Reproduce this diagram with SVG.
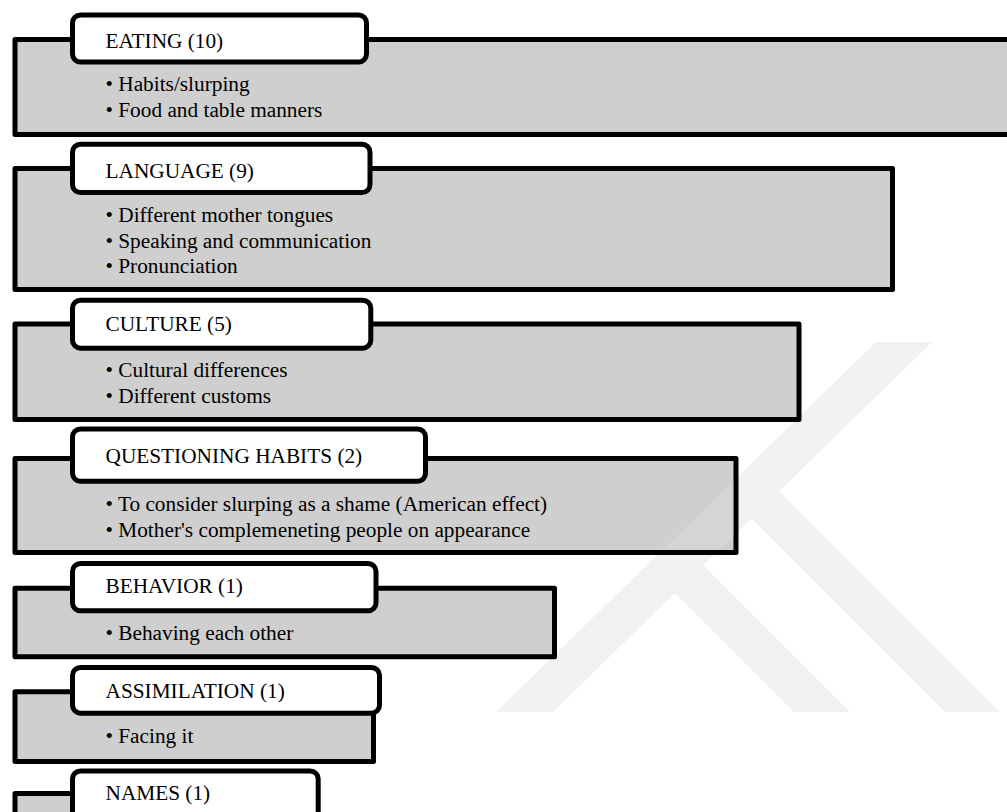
<svg xmlns="http://www.w3.org/2000/svg" xmlns:xlink="http://www.w3.org/1999/xlink" width="1007" height="812" viewBox="0 0 1007 812">
  <style>
    .panel { fill: #cfcfcf; stroke: #000; stroke-width: 5; stroke-linejoin: round; }
    .tab { fill: #fff; stroke: #000; stroke-width: 5; }
    .title, .item { font-family: "Liberation Serif", "Times New Roman", serif; font-size: 21.3px; fill: #000; }
    .wm-base { fill: #f1f1f1; }
    .wm-lite { fill: #ffffff; opacity: 0.14; }
  </style>
  <defs>
    <!-- faint background emblem: one rising band with two falling branches -->
    <g id="wm">
      <polygon points="496,712 553,712 932,342 876,342"/>
      <polygon points="675,593 703.3,565.3 850,712 794,712"/>
      <polygon points="751.4,518.4 779.2,491.2 1000,712 945,712"/>
    </g>
    <clipPath id="clip-culture"><rect x="17.5" y="326.5" width="779" height="90.5"/></clipPath>
    <clipPath id="clip-questioning"><rect x="17.5" y="461" width="716" height="89"/></clipPath>
    <clipPath id="clip-behavior"><rect x="17.5" y="590.8" width="534.5" height="63.4"/></clipPath>
  </defs>

  <rect width="1007" height="812" fill="#fff"/>

  <g id="watermark" class="wm-base">
    <use xlink:href="#wm"/>
  </g>

  <!-- this layout has no connectors -->
  <g id="connectors"/>

  <g id="node-eating">
    <rect class="panel" x="15" y="39.5" width="1010" height="95"/>
    <rect class="tab" x="72.5" y="15" width="294" height="47" rx="8"/>
    <text class="title" x="105.5" y="48.3">EATING (10)</text>
    <text class="item" x="105.5" y="90.7">• Habits/slurping</text>
    <text class="item" x="105.5" y="117">• Food and table manners</text>
  </g>

  <g id="node-language">
    <rect class="panel" x="15" y="168.5" width="877.5" height="121"/>
    <rect class="tab" x="72.5" y="144.2" width="297.5" height="48.3" rx="8"/>
    <text class="title" x="105.5" y="178">LANGUAGE (9)</text>
    <text class="item" x="105.5" y="222">• Different mother tongues</text>
    <text class="item" x="105.5" y="248">• Speaking and communication</text>
    <text class="item" x="105.5" y="273">• Pronunciation</text>
  </g>

  <g id="node-culture">
    <rect class="panel" x="15" y="324" width="784" height="95.5"/>
    <use xlink:href="#wm" class="wm-lite" clip-path="url(#clip-culture)"/>
    <rect class="tab" x="72.5" y="300.2" width="298.3" height="48" rx="8"/>
    <text class="title" x="105.5" y="331">CULTURE (5)</text>
    <text class="item" x="105.5" y="376.7">• Cultural differences</text>
    <text class="item" x="105.5" y="402.7">• Different customs</text>
  </g>

  <g id="node-questioning-habits">
    <rect class="panel" x="15" y="458.5" width="721" height="94"/>
    <use xlink:href="#wm" class="wm-lite" clip-path="url(#clip-questioning)"/>
    <rect class="tab" x="72.5" y="429" width="353" height="52.3" rx="8"/>
    <text class="title" x="105.5" y="462.7">QUESTIONING HABITS (2)</text>
    <text class="item" x="105.5" y="511">• To consider slurping as a shame (American effect)</text>
    <text class="item" x="105.5" y="536.7">• Mother's complemeneting people on appearance</text>
  </g>

  <g id="node-behavior">
    <rect class="panel" x="15" y="588.3" width="539.5" height="68.4"/>
    <use xlink:href="#wm" class="wm-lite" clip-path="url(#clip-behavior)"/>
    <rect class="tab" x="72.5" y="563.5" width="303.5" height="47.3" rx="8"/>
    <text class="title" x="105.5" y="593.3">BEHAVIOR (1)</text>
    <text class="item" x="105.5" y="640">• Behaving each other</text>
  </g>

  <g id="node-assimilation">
    <rect class="panel" x="15" y="691.7" width="358.5" height="69.8"/>
    <rect class="tab" x="72.5" y="667.5" width="307" height="45.7" rx="8"/>
    <text class="title" x="105.5" y="697.7">ASSIMILATION (1)</text>
    <text class="item" x="105.5" y="743.3">• Facing it</text>
  </g>

  <g id="node-names">
    <rect class="panel" x="15" y="793.5" width="285" height="60"/>
    <rect class="tab" x="72.5" y="771" width="245.7" height="60" rx="8"/>
    <text class="title" x="105.5" y="800.3">NAMES (1)</text>
  </g>
</svg>
